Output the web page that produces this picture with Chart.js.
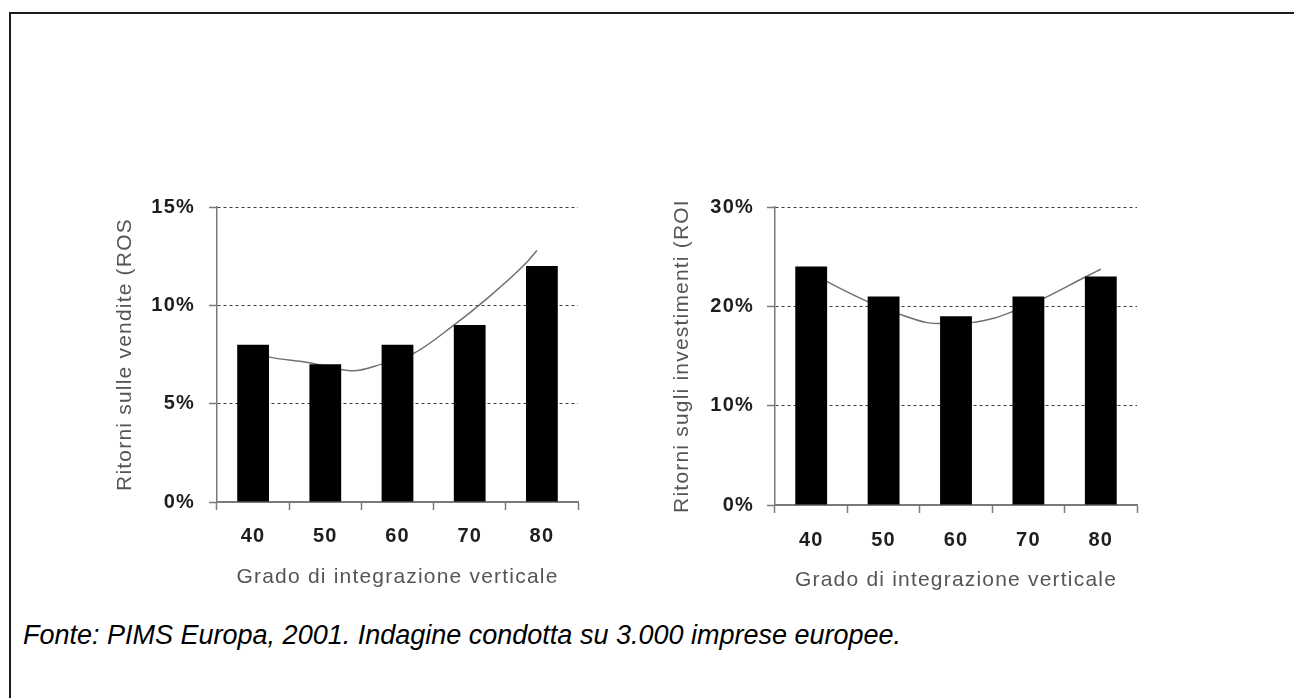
<!DOCTYPE html>
<html>
<head>
<meta charset="utf-8">
<script src="https://cdn.jsdelivr.net/npm/chart.js@4.4.1/dist/chart.umd.min.js"></script>
<style>
  html, body { margin: 0; padding: 0; background: #fff; }
  body { width: 1294px; height: 698px; position: relative; overflow: hidden;
         font-family: "Liberation Sans", Arial, sans-serif; }
  .frame { position: absolute; left: 9px; top: 12px; width: 1400px; height: 800px;
           border-top: 2px solid #1c1c1c; border-left: 2px solid #1c1c1c; }
  .panel { position: absolute; top: 180px; width: 490px; height: 420px; }
  #rosBox { left: 100px; }
  #roiBox { left: 660px; }
  .source { position: absolute; left: 23px; top: 622px; font-style: italic; font-size: 27px;
            line-height: 27px; color: #000; white-space: nowrap; }
</style>
</head>
<body>
<div class="frame"></div>
<div class="panel" id="rosBox"><canvas id="rosChart" width="490" height="420"></canvas></div>
<div class="panel" id="roiBox"><canvas id="roiChart" width="490" height="420"></canvas></div>
<div class="source">Fonte: PIMS Europa, 2001. Indagine condotta su 3.000 imprese europee.</div>

<script>
// Degree of vertical integration (x categories)
const categories = ['40', '50', '60', '70', '80'];

// Return on sales (%) per category
const rosValues = [8, 7, 8, 9, 12];
// Return on investment (%) per category
const roiValues = [24, 21, 19, 21, 23];

// Y tick values for each panel
const rosTicks = [0, 5, 10, 15];
const roiTicks = [0, 10, 20, 30];

// Trend curves: position along the category axis (0 = first category) and value (%)
const rosTrendPos = [0, 0.21, 0.78, 1.21, 1.39, 1.78, 2.22, 2.78, 3.21, 3.79, 3.93];
const rosTrendVal = [7.6, 7.38, 7.08, 6.74, 6.67, 7.01, 7.55, 8.99, 10.25, 12.19, 12.79];
const roiTrendPos = [0, 0.22, 0.78, 1.21, 1.6, 1.77, 2.21, 2.52, 2.78, 3.21, 3.78, 4.0];
const roiTrendVal = [23.4, 22.49, 20.48, 19.24, 18.36, 18.26, 18.36, 18.8, 19.47, 20.8, 22.93, 23.73];

const xTitle = 'Grado di integrazione verticale';
const FAMILY = '"Liberation Sans", Arial, sans-serif';

// Slightly widened lettering used throughout the panels
const spacing = {
  id: 'spacing',
  beforeUpdate(c) { c.ctx.letterSpacing = '1.2px'; },
  beforeDraw(c) { c.ctx.letterSpacing = '1.2px'; }
};

// Hidden linear axis that spans exactly the same width as the category axis
const TREND_MIN = -0.5;
const TREND_MAX = categories.length - 0.5;

function makePanel(canvasId, o) {
  return new Chart(document.getElementById(canvasId), {
    type: 'bar',
    data: {
      labels: categories,
      datasets: [
        {
          type: 'bar',
          data: o.values,
          backgroundColor: '#000',
          borderWidth: 0,
          grouped: false,
          barPercentage: 0.44,
          categoryPercentage: 1,
          xAxisID: 'x',
          yAxisID: 'y',
          order: 0
        },
        {
          type: 'line',
          data: o.trendPos.map((p, i) => ({ x: p, y: o.trendVal[i] })),
          borderColor: '#707070',
          borderWidth: 1.5,
          pointRadius: 0,
          cubicInterpolationMode: 'monotone',
          fill: false,
          xAxisID: 'xt',
          yAxisID: 'y',
          order: 1
        }
      ]
    },
    options: {
      responsive: false,
      animation: false,
      events: [],
      layout: { padding: o.padding },
      plugins: { legend: { display: false }, tooltip: { enabled: false } },
      scales: {
        x: {
          type: 'category',
          offset: true,
          grid: { offset: true, drawOnChartArea: false, drawTicks: true, tickLength: 8,
                  tickColor: '#7a7a7a', tickWidth: 1.5 },
          border: { display: true, color: '#7a7a7a', width: 2 },
          ticks: { color: '#1e1e1e', font: { family: FAMILY, size: 20, weight: 'bold' },
                   padding: o.xTickPad, maxRotation: 0, autoSkip: false },
          title: { display: true, text: xTitle, color: '#555',
                   font: { family: FAMILY, size: 21 }, padding: { top: 0, bottom: o.xTitlePad } },
          afterFit: s => { s.height = o.xHeight; }
        },
        xt: {
          type: 'linear',
          display: false,
          offset: false,
          bounds: 'data',
          min: TREND_MIN,
          max: TREND_MAX
        },
        y: {
          min: 0,
          max: o.ticks[o.ticks.length - 1],
          afterBuildTicks: s => { s.ticks = o.ticks.map(v => ({ value: v })); },
          grid: { color: '#3a3a3a', lineWidth: 1, drawTicks: true, tickLength: 8,
                  tickColor: '#7a7a7a', tickWidth: 1.5 },
          border: { display: true, color: '#7a7a7a', width: 1.5, dash: [3, 3] },
          ticks: { color: '#1e1e1e', font: { family: FAMILY, size: 20, weight: 'bold' },
                   padding: o.yTickPad, callback: v => v + '%' },
          title: { display: true, text: o.yTitle, color: '#555',
                   font: { family: FAMILY, size: 21 }, padding: { top: o.yTitlePad, bottom: 0 } },
          afterFit: s => { s.width = o.yWidth; }
        }
      }
    },
    plugins: [spacing]
  });
}

makePanel('rosChart', {
  values: rosValues, ticks: rosTicks,
  trendPos: rosTrendPos, trendVal: rosTrendVal,
  yTitle: 'Ritorni sulle vendite (ROS',
  padding: { top: 27, right: 12, bottom: 0, left: 0 },
  yWidth: 117, xHeight: 98,
  xTickPad: 14.5, xTitlePad: 10.4, yTickPad: 14, yTitlePad: 12.7
});

makePanel('roiChart', {
  values: roiValues, ticks: roiTicks,
  trendPos: roiTrendPos, trendVal: roiTrendVal,
  yTitle: 'Ritorni sugli investimenti (ROI',
  padding: { top: 27, right: 13, bottom: 0, left: 0 },
  yWidth: 115, xHeight: 95,
  xTickPad: 15, xTitlePad: 6.9, yTickPad: 13, yTitlePad: 9.9
});
</script>
</body>
</html>
